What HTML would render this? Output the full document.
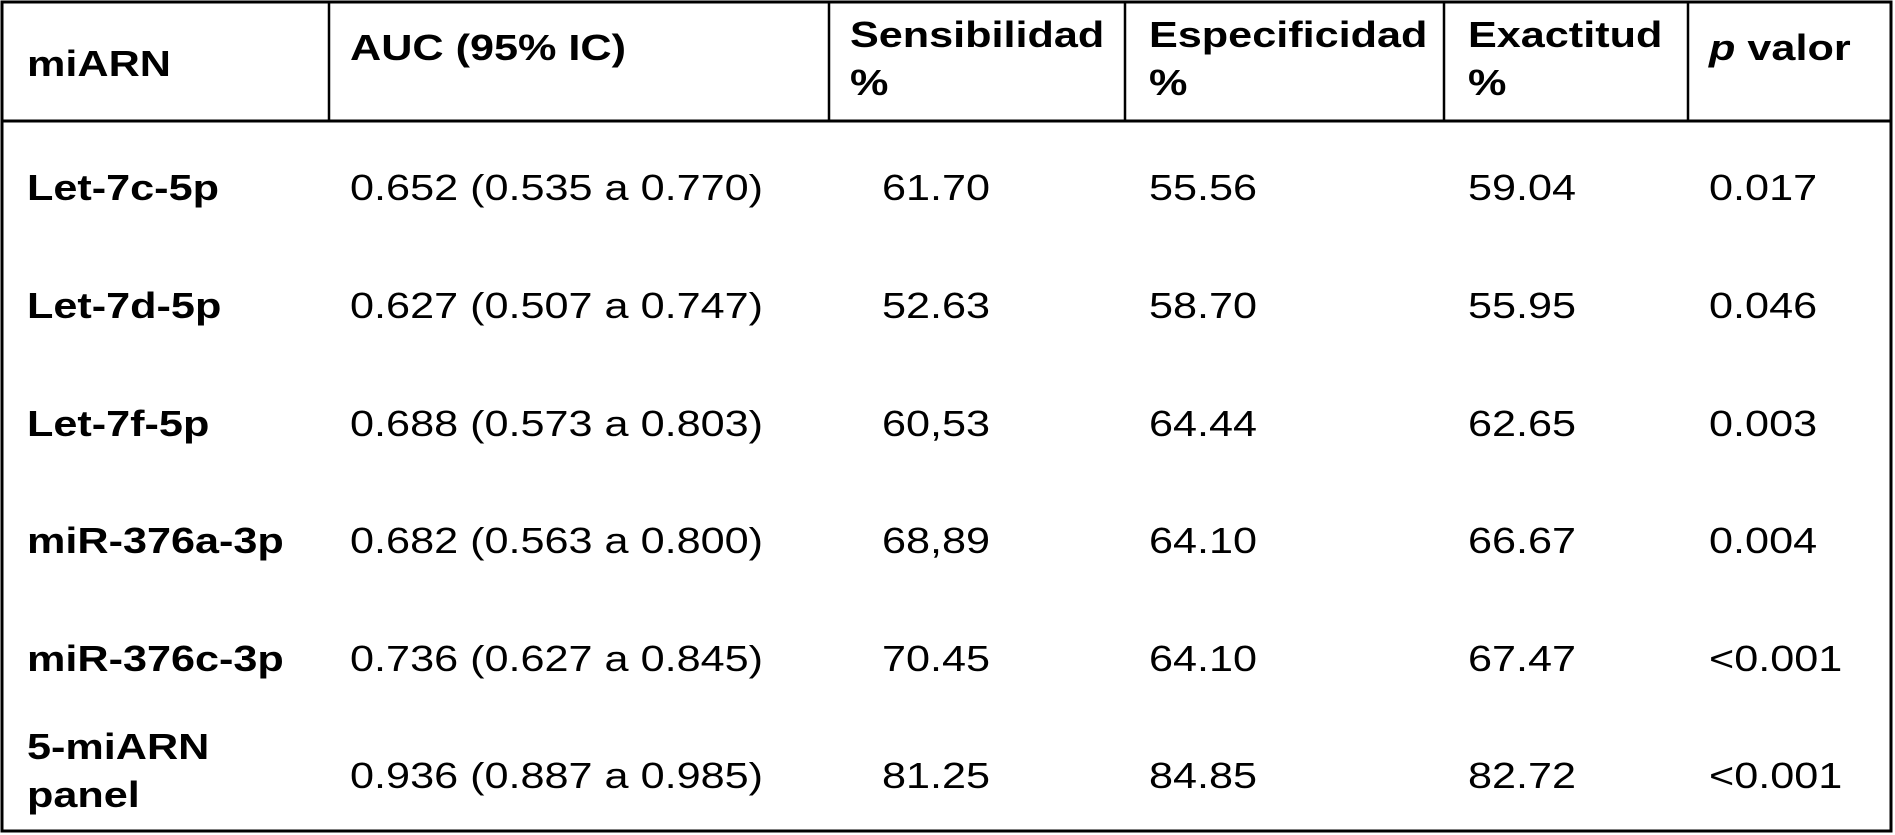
<!DOCTYPE html>
<html><head><meta charset="utf-8"><style>
html,body{margin:0;padding:0;background:#fff;width:1895px;height:835px;overflow:hidden}
svg{display:block}
text{font-family:"Liberation Sans",Arial,sans-serif;font-size:36px;fill:#000}
.b{font-weight:bold}
</style></head><body>
<svg width="1895" height="835" viewBox="0 0 1895 835">
<rect x="2" y="2" width="1889" height="829" fill="none" stroke="#000" stroke-width="3"/>
<line x1="2" y1="121" x2="1891" y2="121" stroke="#000" stroke-width="3"/>
<g stroke="#000" stroke-width="2.5">
<line x1="329" y1="2" x2="329" y2="121"/><line x1="829" y1="2" x2="829" y2="121"/><line x1="1125" y1="2" x2="1125" y2="121"/><line x1="1444" y1="2" x2="1444" y2="121"/><line x1="1688" y1="2" x2="1688" y2="121"/>
</g>
<g transform="scale(1.2 1)">
<g class="b">
<text x="22.5" y="76" class="b">miARN</text>
<text x="291.7" y="60" class="b">AUC (95% IC)</text>
<text x="708.3" y="47" class="b">Sensibilidad</text>
<text x="708.3" y="95" class="b">%</text>
<text x="957.5" y="47" class="b">Especificidad</text>
<text x="957.5" y="95" class="b">%</text>
<text x="1223.3" y="47" class="b">Exactitud</text>
<text x="1223.3" y="95" class="b">%</text>
<text x="1424.2" y="60" class="b"><tspan font-style="italic">p</tspan> valor</text>
</g>
<g>
<text x="22.5" y="200" class="b">Let-7c-5p</text><text x="291.7" y="200">0.652 (0.535 a 0.770)</text><text x="735" y="200">61.70</text><text x="957.5" y="200">55.56</text><text x="1223.3" y="200">59.04</text><text x="1424.2" y="200">0.017</text>
</g>
<g>
<text x="22.5" y="318" class="b">Let-7d-5p</text><text x="291.7" y="318">0.627 (0.507 a 0.747)</text><text x="735" y="318">52.63</text><text x="957.5" y="318">58.70</text><text x="1223.3" y="318">55.95</text><text x="1424.2" y="318">0.046</text>
</g>
<g>
<text x="22.5" y="436" class="b">Let-7f-5p</text><text x="291.7" y="436">0.688 (0.573 a 0.803)</text><text x="735" y="436">60,53</text><text x="957.5" y="436">64.44</text><text x="1223.3" y="436">62.65</text><text x="1424.2" y="436">0.003</text>
</g>
<g>
<text x="22.5" y="553" class="b">miR-376a-3p</text><text x="291.7" y="553">0.682 (0.563 a 0.800)</text><text x="735" y="553">68,89</text><text x="957.5" y="553">64.10</text><text x="1223.3" y="553">66.67</text><text x="1424.2" y="553">0.004</text>
</g>
<g>
<text x="22.5" y="671" class="b">miR-376c-3p</text><text x="291.7" y="671">0.736 (0.627 a 0.845)</text><text x="735" y="671">70.45</text><text x="957.5" y="671">64.10</text><text x="1223.3" y="671">67.47</text><text x="1424.2" y="671">&lt;0.001</text>
</g>
<g>
<text x="22.5" y="759" class="b">5-miARN</text><text x="22.5" y="807" class="b">panel</text><text x="291.7" y="788">0.936 (0.887 a 0.985)</text><text x="735" y="788">81.25</text><text x="957.5" y="788">84.85</text><text x="1223.3" y="788">82.72</text><text x="1424.2" y="788">&lt;0.001</text>
</g>
</g>
</svg>
</body></html>
